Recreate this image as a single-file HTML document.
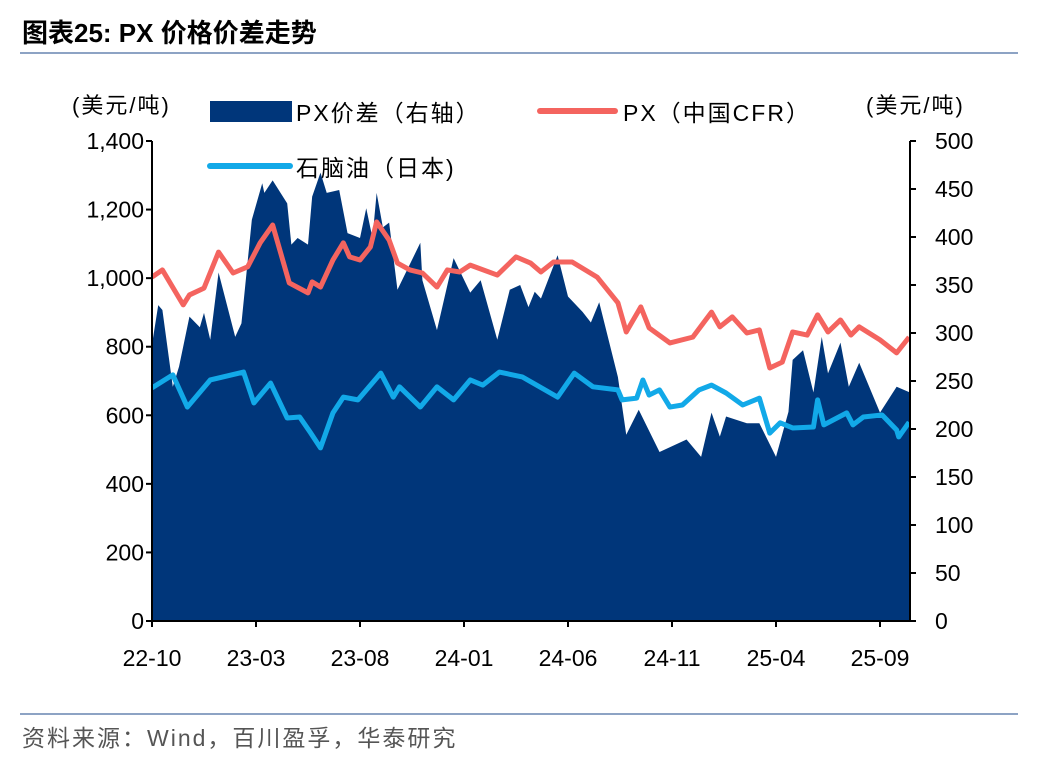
<!DOCTYPE html>
<html><head><meta charset="utf-8"><style>
body{margin:0;background:#fff;width:1048px;height:760px;overflow:hidden;font-family:"Liberation Sans","Noto Sans CJK SC",sans-serif}
</style></head><body>
<svg id="c" width="1048" height="760" style="position:absolute;left:0;top:0">
<text x="22" y="42" font-size="26" font-weight="bold" fill="#000">图表25:   PX 价格价差走势</text>
<line x1="20" y1="53" x2="1018" y2="53" stroke="#8da3c4" stroke-width="2"/>
<line x1="20" y1="714" x2="1018" y2="714" stroke="#8da3c4" stroke-width="2"/>
<text x="22" y="746" font-size="23" fill="#555" letter-spacing="2">资料来源：Wind，百川盈孚，华泰研究</text>
<text x="72" y="113" font-size="22" fill="#000" letter-spacing="2">(美元/吨)</text>
<text x="866" y="113" font-size="22" fill="#000" letter-spacing="2">(美元/吨)</text>
<g id="plot"></g>
<g id="axes"></g>
<g>
<rect x="210" y="101" width="82" height="21" fill="#00367A"/>
<text x="296" y="121" font-size="23" letter-spacing="2">PX价差（右轴）</text>
<line x1="540" y1="111" x2="615" y2="111" stroke="#F4645F" stroke-width="6" stroke-linecap="round"/>
<text x="623" y="121" font-size="23" letter-spacing="2">PX（中国CFR）</text>
<line x1="210" y1="166" x2="290" y2="166" stroke="#12A9E8" stroke-width="6" stroke-linecap="round"/>
<text x="296" y="176" font-size="23" letter-spacing="2">石脑油（日本)</text>
</g>
</svg>
<script>
const pxMonths=[0,0.5,1.5,1.8,2.5,3.2,3.9,4.6,5.2,5.8,6.6,7.5,7.7,8.1,8.7,9.2,9.5,10.0,10.5,10.8,11.4,11.8,12.4,13.0,13.7,14.2,14.8,15.3,16.6,17.5,18.2,18.7,19.3,20.2,21.4,22.4,22.8,23.5,23.9,24.9,26.0,26.9,27.3,27.9,28.6,29.2,29.7,30.3,30.8,31.5,32.0,32.5,33.1,33.6,34.0,35.0,35.8,36.4];
const pxValues=[1003,1024,922,951,971,1076,1015,1033,1103,1155,986,957,989,974,1053,1103,1062,1053,1091,1164,1111,1044,1024,1015,974,1024,1018,1038,1009,1062,1044,1018,1047,1047,1003,928,843,916,855,811,828,901,858,887,840,849,738,755,843,834,893,843,878,834,858,820,782,828];
const naphthaMonths=[0,1.0,1.7,2.8,4.4,4.9,5.7,6.5,7.1,7.6,8.1,8.7,9.2,9.9,11.0,11.6,11.9,12.9,13.7,14.5,15.3,15.9,16.7,17.8,19.5,20.3,21.2,22.4,22.6,23.3,23.6,23.9,24.4,24.9,25.5,26.3,26.9,27.6,28.4,29.2,29.7,30.2,30.8,31.8,32.0,32.3,33.4,33.7,34.2,35.1,35.8,35.9,36.4];
const naphthaValues=[680,718,624,703,726,636,694,592,595,551,505,607,653,645,723,653,683,624,683,645,703,688,726,712,653,723,683,674,645,650,703,659,674,624,630,674,688,665,630,650,548,578,563,566,645,572,607,572,595,601,557,537,580];
const spreadMonths=[0,0.3,0.5,1.0,1.3,1.8,2.3,2.5,2.8,3.2,4.0,4.3,4.8,5.3,5.4,5.8,6.5,6.7,7.0,7.5,7.7,8.1,8.4,9.0,9.4,10.0,10.3,10.6,10.8,11.1,11.4,11.8,12.9,13.0,13.7,14.5,15.3,15.8,16.6,17.2,17.7,18.1,18.4,18.7,19.5,20.0,20.7,21.1,21.5,22.4,22.8,23.4,24.4,25.7,26.4,26.9,27.3,27.6,28.6,29.2,30.0,30.6,30.8,31.3,31.8,32.2,32.5,33.1,33.5,34.0,35.0,35.8,36.5];
const spreadValues=[288,329,324,244,265,317,306,321,293,363,296,310,418,456,446,459,435,392,399,392,442,467,446,449,404,399,430,399,446,410,415,345,394,355,303,378,342,355,293,345,350,327,343,336,381,338,322,311,332,254,194,220,176,189,171,217,192,213,206,206,171,218,272,282,238,296,258,290,244,269,217,244,238];
const leftTicks=[0,200,400,600,800,"1,000","1,200","1,400"];
const rightTicks=[0,50,100,150,200,250,300,350,400,450,500];
const xLabels=["22-10","23-03","23-08","24-01","24-06","24-11","25-04","25-09"];

const X0=152,X1=910,Y0=621,Y1=141;
const xS=m=>Math.min(X1,X0+m*20.8);
const yL=v=>Y0-(v/1400)*(Y0-Y1);
const yR=v=>Y0-(v/500)*(Y0-Y1);
const NS="http://www.w3.org/2000/svg";
const plot=document.getElementById('plot'),axes=document.getElementById('axes');
function mk(tag,attrs,parent){const e=document.createElementNS(NS,tag);for(const k in attrs)e.setAttribute(k,attrs[k]);parent.appendChild(e);return e;}

let d=`M${xS(spreadMonths[0])},${Y0}`;
spreadMonths.forEach((m,i)=>{d+=` L${xS(m)},${yR(spreadValues[i])}`;});
d+=` L${xS(spreadMonths[spreadMonths.length-1])},${Y0} Z`;
const area=mk('path',{d:d,fill:'#00367A'},plot);



const pPx=mk('polyline',{points:pxMonths.map((m,i)=>xS(m)+','+yL(pxValues[i])).join(' '),fill:'none',stroke:'#F4645F','stroke-width':5,'stroke-linejoin':'round'},plot);


const pN=mk('polyline',{points:naphthaMonths.map((m,i)=>xS(m)+','+yL(naphthaValues[i])).join(' '),fill:'none',stroke:'#12A9E8','stroke-width':5,'stroke-linejoin':'round'},plot);



const la=mk('line',{x1:X0,y1:Y1,x2:X0,y2:Y0,stroke:'#000','stroke-width':2},axes);


const ra=mk('line',{x1:X1,y1:Y1,x2:X1,y2:Y0,stroke:'#000','stroke-width':2},axes);


const xa=mk('line',{x1:X0,y1:Y0,x2:X1,y2:Y0,stroke:'#000','stroke-width':2},axes);



leftTicks.forEach((t,i)=>{const y=Y0-i*(Y0-Y1)/(leftTicks.length-1);
 mk('line',{x1:X0-6,y1:y,x2:X0,y2:y,stroke:'#000','stroke-width':2},axes);
 const tx=mk('text',{x:X0-8,y:y+8,'font-size':23,'text-anchor':'end'},axes);tx.textContent=t;
 
 });
rightTicks.forEach(t=>{const y=yR(t);
 mk('line',{x1:X1,y1:y,x2:X1+6,y2:y,stroke:'#000','stroke-width':2},axes);
 const tx=mk('text',{x:X1+25,y:y+8,'font-size':23,'text-anchor':'start'},axes);tx.textContent=t;
 
 });
xLabels.forEach((t,i)=>{const x=xS(i*5);
 mk('line',{x1:x,y1:Y0,x2:x,y2:Y0+6,stroke:'#000','stroke-width':2},axes);
 const tx=mk('text',{x:x,y:666,'font-size':23,'text-anchor':'middle'},axes);tx.textContent=t;
 
 });
</script>
</body></html>
